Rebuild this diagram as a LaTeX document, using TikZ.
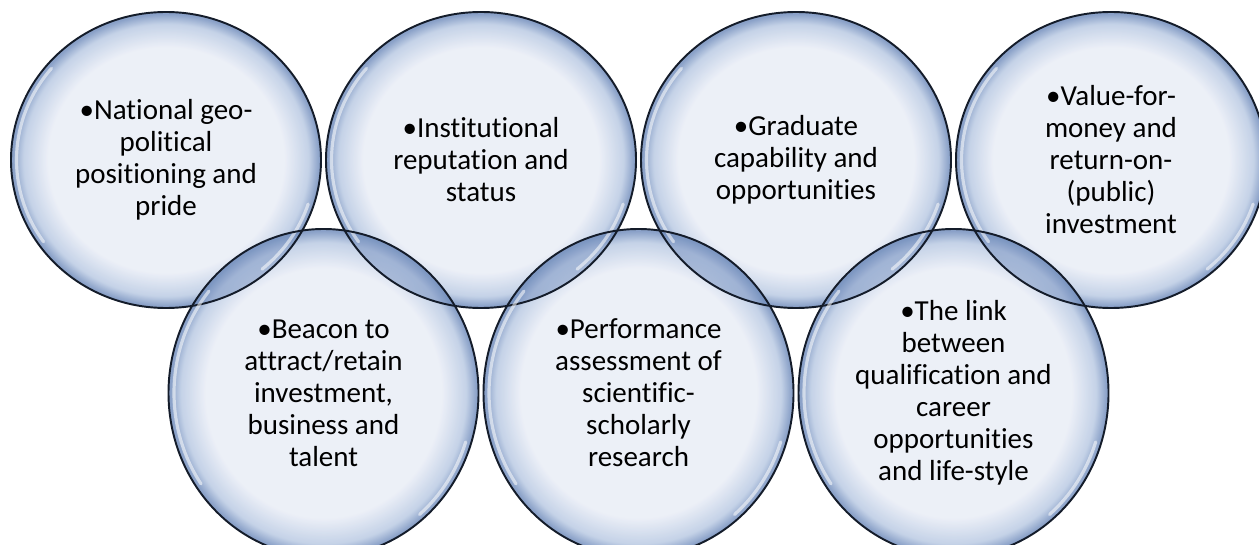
\documentclass[tikz,border=0pt]{standalone}
\usepackage{fontspec}
\setmainfont{Carlito}[Ligatures={NoCommon,NoContextual}]
\usetikzlibrary{shapes.geometric}

\definecolor{bubblefill}{HTML}{E9EDF6}
\definecolor{bubblemid}{HTML}{BACAE3}
\definecolor{bubbleedge}{HTML}{7590BE}
\definecolor{bubblerim}{HTML}{141C2A}

% pale centre, blue band near the rim
\pgfdeclareradialshading{bubble}{\pgfpoint{0bp}{0bp}}{%
  color(0bp)=(bubblefill); color(19bp)=(bubblefill);
  color(23bp)=(bubblemid); color(24.7bp)=(bubbleedge);
  color(50bp)=(bubbleedge)}

\newcommand{\bubblefont}{\fontsize{16.5}{18.2}\selectfont}

\begin{document}
\begin{tikzpicture}[
	bubble/.style={ellipse, shading=bubble, fill opacity=0.85, text opacity=1,
		align=center, font=\bubblefont, inner sep=0pt, minimum width=6.2cm},
	toprow/.style={bubble, minimum height=5.92cm},
	botrow/.style={bubble, minimum height=6.56cm},
	lens/.style={fill=bubbleedge, fill opacity=0.4},
	rim/.style={draw=bubblerim, line width=1.1pt},
	glint/.style={draw=white, line width=1.8pt, line cap=round, opacity=0.55}]

	\useasboundingbox (0, 0) rectangle (25.18, 10.88);

	\node[toprow] (nat) at (3.32, 7.68) {\textbullet National geo-\\political\\positioning and\\pride};
	\node[toprow] (inst) at (9.62, 7.68) {\textbullet Institutional\\reputation and\\status};
	\node[toprow] (grad) at (15.92, 7.68) {\textbullet Graduate\\capability and\\opportunities};
	\node[toprow] (value) at (22.22, 7.68) {\textbullet Value-for-\\money and\\return-on-\\(public)\\investment};

	\node[botrow] (beacon) at (6.47, 3.02) {\textbullet Beacon to\\attract/retain\\investment,\\business and\\talent};
	\node[botrow] (perf) at (12.77, 3.02) {\textbullet Performance\\assessment of\\scientific-\\scholarly\\research};
	\node[botrow] (link) at (19.07, 3.02) {\textbullet The link\\between\\qualification and\\career\\opportunities\\and life-style};

	% darker overlaps
	\foreach \a/\b in {nat/beacon, inst/beacon, inst/perf, grad/perf, grad/link, value/link} {
		\begin{scope}
			\clip (\a.center) ellipse [x radius=3.1, y radius=2.96];
			\fill[lens] (\b.center) ellipse [x radius=3.1, y radius=3.28];
		\end{scope}
	}

	% highlights and outlines
	\foreach \n/\ry in {nat/2.96, inst/2.96, grad/2.96, value/2.96, beacon/3.28, perf/3.28, link/3.28} {
		\draw[glint, shift={(\n.center)}] (140:2.99 and \ry-0.11) arc [start angle=140, end angle=215, x radius=2.99, y radius=\ry-0.11];
		\draw[glint, shift={(\n.center)}] (-18:2.99 and \ry-0.11) arc [start angle=-18, end angle=-50, x radius=2.99, y radius=\ry-0.11];
		\draw[rim] (\n.center) ellipse [x radius=3.1, y radius=\ry];
	}

\end{tikzpicture}
\end{document}
